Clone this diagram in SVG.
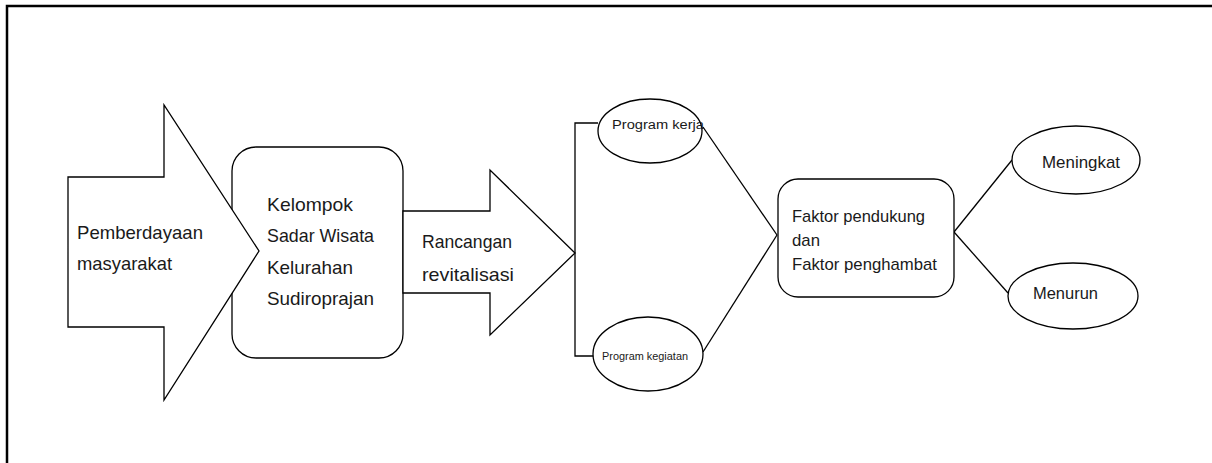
<svg xmlns="http://www.w3.org/2000/svg" width="1212" height="463" viewBox="0 0 1212 463">
<style>
.s{fill:#fff;stroke:#000;stroke-width:1.3}
.l{fill:none;stroke:#000;stroke-width:1.3}
.t{font-family:"Liberation Sans",Arial,sans-serif;fill:#1a1a1a}
</style>
<rect width="1212" height="463" fill="#fff"/>
<path d="M7,463 V6 H1212" fill="none" stroke="#000" stroke-width="2.5"/>
<g id="connectors">
<path class="l" d="M598,123 H575 V356 H598"/>
<line class="l" x1="703" y1="127" x2="777" y2="235"/>
<line class="l" x1="703" y1="352" x2="777" y2="235"/>
<line class="l" x1="954" y1="232" x2="1012" y2="160"/>
<line class="l" x1="954" y1="232" x2="1008" y2="293"/>
</g>
<g id="kelompok">
<rect class="s" x="232" y="147" width="171" height="211" rx="24"/>
<text class="t" font-size="19" x="267" y="211" textLength="86" lengthAdjust="spacingAndGlyphs">Kelompok</text>
<text class="t" font-size="19" x="267" y="242" textLength="107" lengthAdjust="spacingAndGlyphs">Sadar Wisata</text>
<text class="t" font-size="19" x="267" y="274" textLength="86" lengthAdjust="spacingAndGlyphs">Kelurahan</text>
<text class="t" font-size="19" x="267" y="305" textLength="107" lengthAdjust="spacingAndGlyphs">Sudiroprajan</text>
</g>
<g id="pemberdayaan">
<polygon class="s" points="68,177 164,177 164,105 259,251 164,400 164,327 68,327"/>
<text class="t" font-size="19" x="77" y="239" textLength="126" lengthAdjust="spacingAndGlyphs">Pemberdayaan</text>
<text class="t" font-size="19" x="77" y="270" textLength="95" lengthAdjust="spacingAndGlyphs">masyarakat</text>
</g>
<g id="rancangan">
<polygon class="s" points="403,211 490,211 490,170 575,253 490,335 490,293 403,293"/>
<text class="t" font-size="19" x="422" y="248" textLength="90" lengthAdjust="spacingAndGlyphs">Rancangan</text>
<text class="t" font-size="19" x="422" y="281" textLength="92" lengthAdjust="spacingAndGlyphs">revitalisasi</text>
</g>
<g id="program-kerja">
<ellipse class="s" cx="650" cy="131" rx="52" ry="32"/>
<text class="t" font-size="12.5" x="612" y="129" textLength="92" lengthAdjust="spacingAndGlyphs">Program kerja</text>
</g>
<g id="program-kegiatan">
<ellipse class="s" cx="648" cy="354" rx="55" ry="37"/>
<text class="t" font-size="11" x="602" y="360" textLength="86" lengthAdjust="spacingAndGlyphs">Program kegiatan</text>
</g>
<g id="faktor">
<rect class="s" x="778" y="179" width="176" height="118" rx="20"/>
<text class="t" font-size="17" x="792" y="222" textLength="133" lengthAdjust="spacingAndGlyphs">Faktor pendukung</text>
<text class="t" font-size="17" x="792" y="246" textLength="28" lengthAdjust="spacingAndGlyphs">dan</text>
<text class="t" font-size="17" x="792" y="270" textLength="145" lengthAdjust="spacingAndGlyphs">Faktor penghambat</text>
</g>
<g id="meningkat">
<ellipse class="s" cx="1076" cy="160" rx="64" ry="34"/>
<text class="t" font-size="17" x="1042" y="168" textLength="78" lengthAdjust="spacingAndGlyphs">Meningkat</text>
</g>
<g id="menurun">
<ellipse class="s" cx="1073" cy="296" rx="65" ry="33"/>
<text class="t" font-size="17" x="1033" y="299" textLength="65" lengthAdjust="spacingAndGlyphs">Menurun</text>
</g>
</svg>
